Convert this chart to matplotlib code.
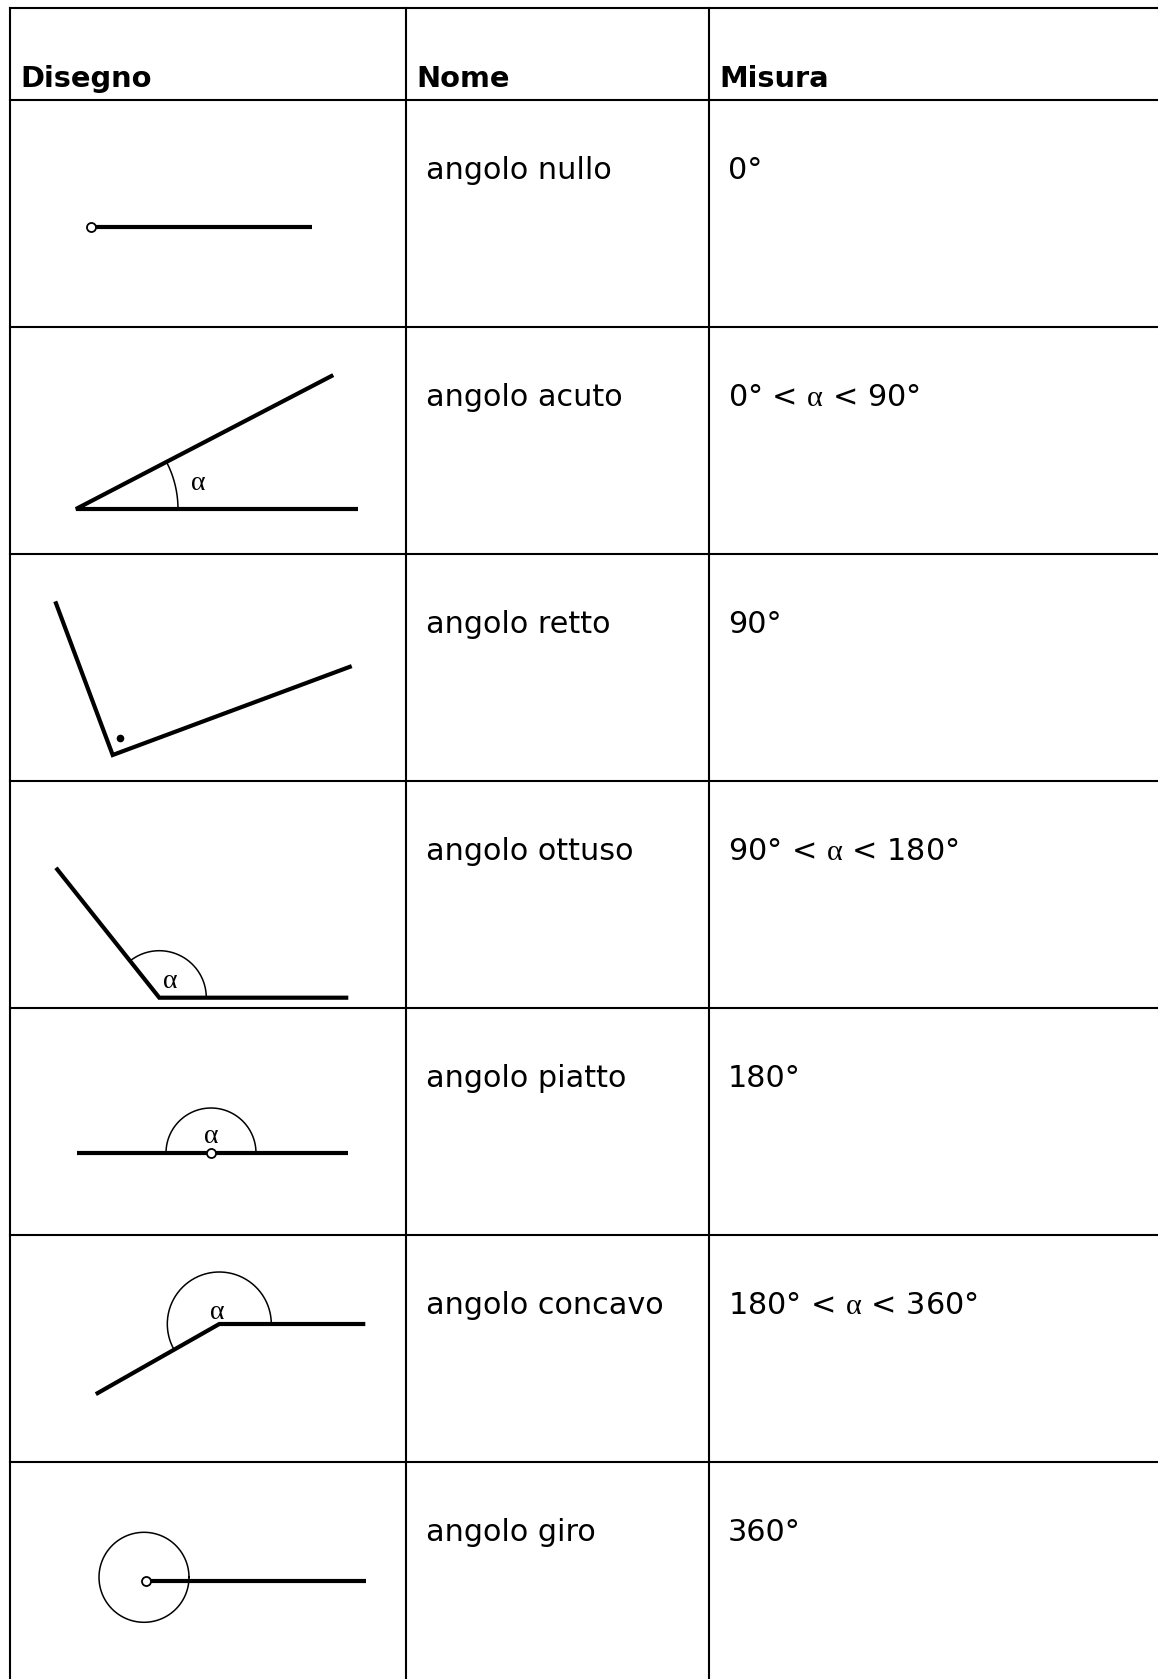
import numpy as np
import matplotlib.pyplot as plt

plt.rcParams['mathtext.fontset'] = 'custom'
plt.rcParams['mathtext.rm'] = 'Liberation Serif'
plt.rcParams['mathtext.it'] = 'Liberation Serif'
plt.rcParams['mathtext.default'] = 'rm'

# Table content
headers = ['Disegno', 'Nome', 'Misura']
names = ['angolo nullo', 'angolo acuto', 'angolo retto', 'angolo ottuso',
         'angolo piatto', 'angolo concavo', 'angolo giro']
measures = ['0°', r'0° < $\alpha$ < 90°', '90°', r'90° < $\alpha$ < 180°',
            '180°', r'180° < $\alpha$ < 360°', '360°']

# Angle drawings (one entry per row): first ray, second ray, arc, label
ray1_angle = [0, 0, 20.4, 0, 0, 0, 0]
ray1_len = [221, 282, 255, 189, 137, 146, 220]
ray2_angle = [None, 27.5, 110.5, 128.5, 180, 209.6, None]
ray2_len = [0, 290, 164, 166, 134, 142, 0]
arc_end = [None, 27.5, None, 128.5, 180, 209.6, 360]
arc_radius = [0, 102, 0, 47, 45, 52, 45]
open_vertex = [True, False, False, False, True, False, True]
alpha_label = [None, (125, 12.5), None, (21, 59), (18, 90), (13, 99), None]
right_dot = [None, None, (18.5, 65.5), None, None, None, None]

# Layout (pixels)
W, H = 1158, 1679
top_y = 8
header_y = 100.2
row_h = 226.9
col_x = [10, 406, 709]
vertex_x = [90.7, 76, 112.7, 159.3, 211, 219.3, 145.7]
vertex_dy = [126.5, 181.9, 201, 216.8, 145.2, 89.3, 119.1]

fig = plt.figure(figsize=(W / 100, H / 100), dpi=100)
ax = fig.add_axes([0, 0, 1, 1])
ax.set_xlim(0, W)
ax.set_ylim(H, 0)
ax.axis('off')

grid_kw = dict(color='black', lw=1.5, solid_capstyle='projecting')
row_tops = [header_y + i * row_h for i in range(len(names))]
for y in [top_y, header_y] + row_tops[1:]:
    ax.plot([col_x[0], W], [y, y], **grid_kw)
for x in col_x:
    ax.plot([x, x], [top_y, H], **grid_kw)

for x, h in zip(col_x, headers):
    ax.text(x + 10, 87.3, h, fontsize=20.8, fontweight='bold',
            family='DejaVu Sans', ha='left', va='baseline')


def pt(vx, vy, ang, r):
    a = np.radians(ang)
    return vx + r * np.cos(a), vy - r * np.sin(a)


for i, top in enumerate(row_tops):
    ax.text(col_x[1] + 20, top + 79, names[i], fontsize=21.8,
            family='DejaVu Sans', ha='left', va='baseline')
    ax.text(col_x[2] + 19, top + 79, measures[i], fontsize=21.8,
            family='DejaVu Sans', ha='left', va='baseline')

    vx, vy = vertex_x[i], top + vertex_dy[i]
    xs, ys = [vx], [vy]
    x1, y1 = pt(vx, vy, ray1_angle[i], ray1_len[i])
    xs.append(x1)
    ys.append(y1)
    if ray2_angle[i] is not None:
        x2, y2 = pt(vx, vy, ray2_angle[i], ray2_len[i])
        xs.insert(0, x2)
        ys.insert(0, y2)
    ax.plot(xs, ys, color='black', lw=3, solid_capstyle='butt',
            solid_joinstyle='miter', zorder=3)

    if arc_end[i] is not None:
        # the full turn circle sits a little up and left of the vertex
        cx, cy = (vx - 1.7, vy - 3.4) if arc_end[i] == 360 else (vx, vy)
        t = np.linspace(ray1_angle[i], arc_end[i], 200)
        ax.plot(cx + arc_radius[i] * np.cos(np.radians(t)),
                cy - arc_radius[i] * np.sin(np.radians(t)),
                color='black', lw=1.1, zorder=2)

    if alpha_label[i] is not None:
        lx, ly = pt(vx, vy, alpha_label[i][1], alpha_label[i][0])
        ax.text(lx, ly, r'$\alpha$', fontsize=20, ha='center', va='center')

    if right_dot[i] is not None:
        dx, dy = pt(vx, vy, right_dot[i][1], right_dot[i][0])
        ax.plot(dx, dy, 'o', color='black', ms=4.5, zorder=4)

    if open_vertex[i]:
        ax.plot(vx, vy, 'o', mfc='white', mec='black', mew=1.3, ms=6.5,
                zorder=5)

fig.savefig('out.png', dpi=100)
